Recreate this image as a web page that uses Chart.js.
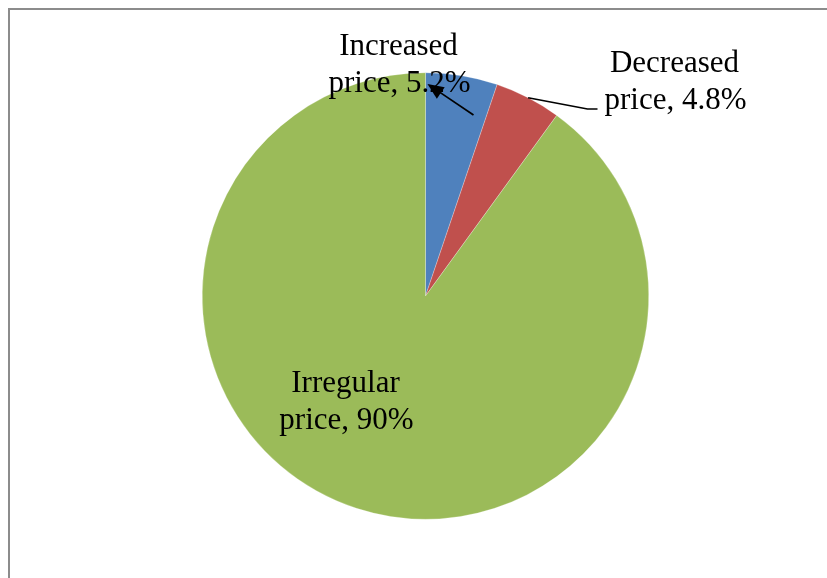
<!DOCTYPE html>
<html>
<head>
<meta charset="utf-8">
<script src="https://cdn.jsdelivr.net/npm/chart.js@4"></script>
<style>
  html, body { margin: 0; padding: 0; background: #fff; overflow: hidden; }
  #wrap { position: relative; width: 827px; height: 578px; }
  #frame {
    position: absolute; left: 8px; top: 8px; width: 900px; height: 700px;
    border-left: 2px solid #8c8c8c; border-top: 2px solid #8c8c8c;
  }
  canvas { position: absolute; left: 0; top: 0; }
</style>
</head>
<body>
<div id="wrap">
  <div id="frame"></div>
  <canvas id="pieChart" width="827" height="578"></canvas>
</div>
<script>
// Chart data
const categories = ['Increased price', 'Decreased price', 'Irregular price'];
const shares = [5.2, 4.8, 90];
const sliceColors = ['#4F81BD', '#C0504D', '#9BBB59'];

// label placement relative to pie centre (px): [x, first baseline]
const labelOffsets = [[-27, -241], [249, -224], [-80, 96]];

function drawArrow(c, x1, y1, x2, y2) {
  const ang = Math.atan2(y2 - y1, x2 - x1);
  const len = 16, half = 7;
  c.beginPath();
  c.moveTo(x1, y1);
  c.lineTo(x2 - Math.cos(ang) * len * 0.8, y2 - Math.sin(ang) * len * 0.8);
  c.stroke();
  c.beginPath();
  c.moveTo(x2, y2);
  c.lineTo(x2 - Math.cos(ang) * len + Math.sin(ang) * half, y2 - Math.sin(ang) * len - Math.cos(ang) * half);
  c.lineTo(x2 - Math.cos(ang) * len - Math.sin(ang) * half, y2 - Math.sin(ang) * len + Math.cos(ang) * half);
  c.closePath();
  c.fill();
}

const sliceLabels = {
  id: 'sliceLabels',
  afterDraw(chart) {
    const c = chart.ctx;
    const meta = chart.getDatasetMeta(0);
    const a0 = meta.data[0];
    const cx = a0.x, cy = a0.y, r = a0.outerRadius;

    c.save();
    c.strokeStyle = '#000';
    c.fillStyle = '#000';
    c.lineWidth = 1.7;

    // leader for "Decreased price" from arc edge at slice middle
    const a1 = meta.data[1];
    const mid = (a1.startAngle + a1.endAngle) / 2;
    const ex = cx + Math.cos(mid) * r, ey = cy + Math.sin(mid) * r;
    c.beginPath();
    c.moveTo(ex, ey);
    c.lineTo(cx + 162, cy - 187);
    c.lineTo(cx + 172, cy - 187);
    c.stroke();

    // arrow for "Increased price"
    drawArrow(c, cx + 48, cy - 181, cx + 2, cy - 212);

    c.font = '31px "Liberation Serif", "Times New Roman", serif';
    c.textAlign = 'center';
    c.textBaseline = 'alphabetic';
    categories.forEach((name, i) => {
      const parts = name.split(' ');
      const [ox, oy] = labelOffsets[i];
      c.fillText(parts[0], cx + ox, cy + oy);
      c.fillText(parts[1] + ', ' + shares[i] + '%', cx + ox + 1, cy + oy + 37);
    });
    c.restore();
  }
};

const ctx = document.getElementById('pieChart').getContext('2d');
const pieChart = new Chart(ctx, {
  type: 'pie',
  data: {
    labels: categories,
    datasets: [{
      data: shares,
      backgroundColor: sliceColors,
      borderColor: 'rgba(255,255,255,0.5)',
      borderWidth: 0.5
    }]
  },
  options: {
    responsive: false,
    animation: false,
    layout: { padding: { left: 202, right: 178, top: 72.5, bottom: 58.5 } },
    plugins: {
      legend: { display: false },
      tooltip: { enabled: false }
    }
  },
  plugins: [sliceLabels]
});
</script>
</body>
</html>
